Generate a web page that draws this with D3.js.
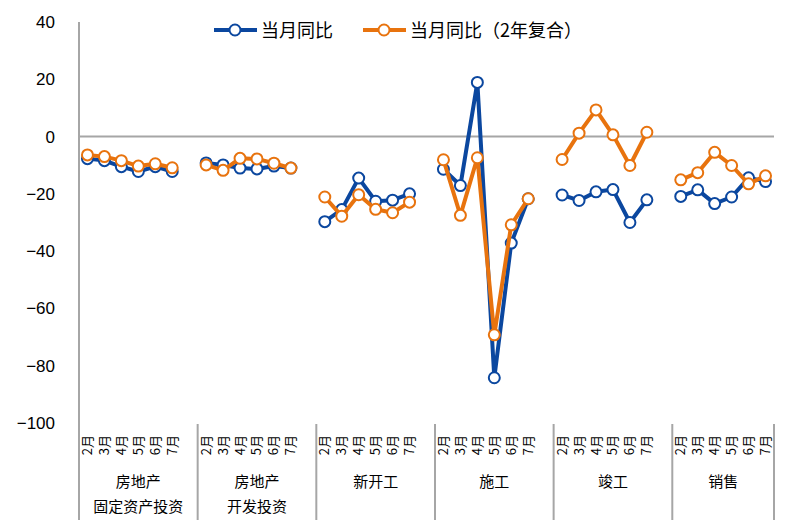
<!DOCTYPE html>
<html>
<head>
<meta charset="utf-8">
<script src="https://cdn.jsdelivr.net/npm/d3@7"></script>
<style>
  html, body { margin: 0; padding: 0; background: #fff; }
  svg { display: block; font-family: "Liberation Sans", Arial, "Noto Sans CJK SC", sans-serif; }
</style>
</head>
<body>
<svg id="chart" width="797" height="531"></svg>
<script>
// ---- data ----
const months = ["2月", "3月", "4月", "5月", "6月", "7月"];
const groupLine1 = ["房地产", "房地产", "新开工", "施工", "竣工", "销售"];
const groupLine2 = ["固定资产投资", "开发投资", "", "", "", ""];
const yTicks = [40, 20, 0, -20, -40, -60, -80, -100];
const seriesNames = ["当月同比", "当月同比（2年复合）"];

// 当月同比
const yoyInvest  = [-7.7, -8.4, -10.5, -12.2, -10.5, -12.2];
const yoyDev     = [-9.2, -9.9, -11.0, -11.3, -10.3, -11.0];
const yoyStart   = [-29.7, -25.5, -14.5, -22.6, -22.2, -20.0];
const yoyConstr  = [-11.4, -17.1, 18.9, -84.2, -37.2, -21.7];
const yoyFinish  = [-20.4, -22.3, -19.3, -18.5, -30.0, -22.1];
const yoySales   = [-20.9, -18.6, -23.4, -21.1, -14.4, -15.7];
// 当月同比（2年复合）
const cagrInvest = [-6.4, -7.0, -8.4, -10.3, -9.5, -10.9];
const cagrDev    = [-9.9, -11.8, -7.6, -7.8, -9.3, -11.0];
const cagrStart  = [-21.1, -27.8, -20.3, -25.4, -26.6, -22.9];
const cagrConstr = [-8.1, -27.5, -7.4, -69.2, -30.8, -21.7];
const cagrFinish = [-8.0, 1.2, 9.3, 0.6, -10.1, 1.5];
const cagrSales  = [-15.1, -12.6, -5.5, -10.1, -16.5, -13.7];

const yoy  = [yoyInvest, yoyDev, yoyStart, yoyConstr, yoyFinish, yoySales];
const cagr = [cagrInvest, cagrDev, cagrStart, cagrConstr, cagrFinish, cagrSales];

// ---- layout ----
const colors = ["#0b479f", "#e8730e"];
const axisColor = "#a6a6a6";
const svg = d3.select("#chart");
const plotLeft = 79, plotRight = 774, plotTop = 22, plotBottom = 423;

// categories: 6 months per group plus a blank slot between groups
const cats = [];
groupLine1.forEach((g, gi) => {
  months.forEach((m, mi) => cats.push({ key: gi + "-" + mi, g: gi, m }));
  if (gi < groupLine1.length - 1) cats.push({ key: gi + "-blank", g: gi, m: "" });
});

const x = d3.scaleBand().domain(cats.map(c => c.key)).range([plotLeft, plotRight]).paddingInner(0).paddingOuter(0);
const y = d3.scaleLinear().domain([-100, 40]).range([plotBottom, plotTop]);
const cx = (gi, mi) => x(gi + "-" + mi) + x.bandwidth() / 2;

// y axis labels
const yAxis = d3.axisLeft(y).tickValues(yTicks).tickSize(0).tickPadding(24).tickFormat(d3.format("d"));
const yg = svg.append("g").attr("transform", `translate(${plotLeft},0)`).call(yAxis);
yg.select(".domain").remove();
yg.selectAll("text").attr("font-size", 17).attr("fill", "#000")
  .attr("font-family", "'Liberation Sans', Arial, sans-serif");

// y axis line
svg.append("line").attr("x1", plotLeft).attr("x2", plotLeft).attr("y1", plotTop).attr("y2", 520)
  .attr("stroke", axisColor).attr("stroke-width", 2);

// zero line
svg.append("line").attr("x1", plotLeft).attr("x2", plotRight).attr("y1", y(0)).attr("y2", y(0))
  .attr("stroke", axisColor).attr("stroke-width", 2);

// group separators
const sepX = groupLine1.map((g, gi) => gi < groupLine1.length - 1 ? x(gi + "-blank") + x.bandwidth() : plotRight);
sepX.forEach(sx => {
  svg.append("line").attr("x1", sx).attr("x2", sx).attr("y1", 424).attr("y2", 520)
    .attr("stroke", axisColor).attr("stroke-width", 2);
});

// month labels
cats.filter(c => c.m).forEach(c => {
  const px = x(c.key) + x.bandwidth() / 2;
  svg.append("text")
    .attr("transform", `translate(${px + 4.5},435) rotate(-90)`)
    .attr("text-anchor", "end")
    .attr("font-size", 13)
    .attr("font-family", "'Noto Sans CJK SC', sans-serif")
    .attr("fill", "#000")
    .text(c.m);
});

// group labels
groupLine1.forEach((g, gi) => {
  const start = x(gi + "-0");
  const end = x(gi + "-5") + x.bandwidth();
  const gx = (start + end) / 2 + (gi < groupLine1.length - 1 ? x.bandwidth() / 2 : 0);
  svg.append("text").attr("x", gx).attr("y", 487).attr("text-anchor", "middle")
    .attr("font-size", 15).attr("font-family", "'Noto Sans CJK SC', sans-serif").attr("fill", "#000").text(g);
  if (groupLine2[gi]) {
    svg.append("text").attr("x", gx).attr("y", 512).attr("text-anchor", "middle")
      .attr("font-size", 15).attr("font-family", "'Noto Sans CJK SC', sans-serif").attr("fill", "#000").text(groupLine2[gi]);
  }
});

// series
const line = d3.line().x(d => d.x).y(d => d.y);
[yoy, cagr].forEach((series, si) => {
  const g = svg.append("g");
  series.forEach((vals, gi) => {
    const pts = vals.map((v, mi) => ({ x: cx(gi, mi), y: y(v) }));
    g.append("path").attr("d", line(pts)).attr("fill", "none")
      .attr("stroke", colors[si]).attr("stroke-width", 4).attr("stroke-linejoin", "round");
    g.selectAll(null).data(pts).enter().append("circle")
      .attr("cx", d => d.x).attr("cy", d => d.y).attr("r", 5.5)
      .attr("fill", "#fff").attr("stroke", colors[si]).attr("stroke-width", 2);
  });
});

// legend
const legendItems = [{ x: 214, name: seriesNames[0] }, { x: 363, name: seriesNames[1] }];
legendItems.forEach((it, i) => {
  const lg = svg.append("g");
  lg.append("line").attr("x1", it.x).attr("x2", it.x + 43).attr("y1", 30).attr("y2", 30)
    .attr("stroke", colors[i]).attr("stroke-width", 4);
  lg.append("circle").attr("cx", it.x + 21).attr("cy", 30).attr("r", 5.5)
    .attr("fill", "#fff").attr("stroke", colors[i]).attr("stroke-width", 2);
  lg.append("text").attr("x", it.x + 47).attr("y", 37).attr("font-size", 18)
    .attr("font-family", "'Noto Sans CJK SC', sans-serif").attr("fill", "#000").text(it.name);
});
</script>
</body>
</html>
